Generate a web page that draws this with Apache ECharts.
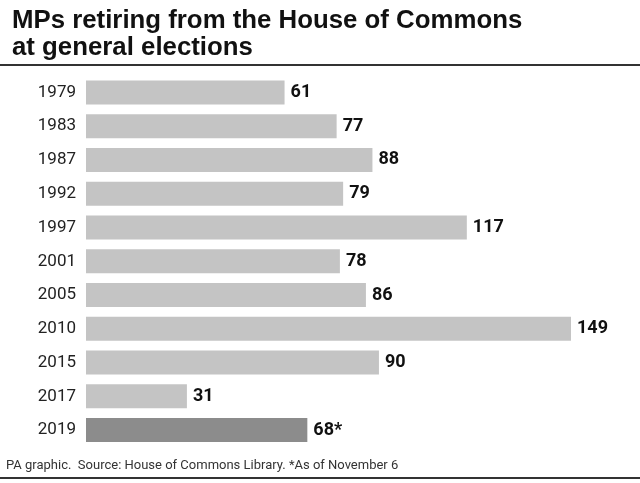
<!DOCTYPE html>
<html><head><meta charset="utf-8">
<script src="https://cdn.jsdelivr.net/npm/echarts@6/dist/echarts.min.js"></script>
<style>html,body{margin:0;padding:0;background:#fff}#c{width:640px;height:483px}</style>
</head><body><div id="c"></div>
<script>
const years = ['1979','1983','1987','1992','1997','2001','2005','2010','2015','2017','2019'];
const values = [61,77,88,79,117,78,86,149,90,31,68];
const labels = ['61','77','88','79','117','78','86','149','90','31','68*'];
const highlight = '2019';

const chart = echarts.init(document.getElementById('c'));
chart.setOption({
  animation:false,
  backgroundColor:'#fff',
  title:{
    text:'MPs retiring from the House of Commons\nat general elections',
    left:7, top:2,
    textStyle:{fontFamily:'Liberation Sans', fontWeight:'bold', fontSize:25.8, lineHeight:27, color:'#111'}
  },
  graphic:[
    {type:'line', shape:{x1:0,y1:65,x2:640,y2:65}, style:{stroke:'#333', lineWidth:2}},
    {type:'line', shape:{x1:0,y1:478,x2:640,y2:478}, style:{stroke:'#333', lineWidth:2}},
    {type:'text', left:6, top:459, style:{text:'PA graphic.  Source: House of Commons Library. *As of November 6', fontFamily:'Roboto', fontSize:13, fill:'#333'}}
  ],
  grid:{left:86, top:75.6, width:520.8, height:371.3},
  xAxis:{type:'value', min:0, max:160, show:false},
  yAxis:{type:'category', data:years, inverse:true,
    axisLine:{show:false}, axisTick:{show:false},
    axisLabel:{margin:10, fontFamily:'Roboto', fontSize:17, color:'#222'}},
  series:[{
    type:'bar', barCategoryGap:'29%',
    data: values.map((v,i)=>({value:v, itemStyle:{color: years[i]===highlight ? '#8c8c8c' : '#c4c4c4'}})),
    label:{show:true, position:'right', distance:6, fontFamily:'Roboto', fontWeight:'bold', fontSize:18, color:'#111',
      formatter:p=>labels[p.dataIndex]}
  }]
});
</script></body></html>
